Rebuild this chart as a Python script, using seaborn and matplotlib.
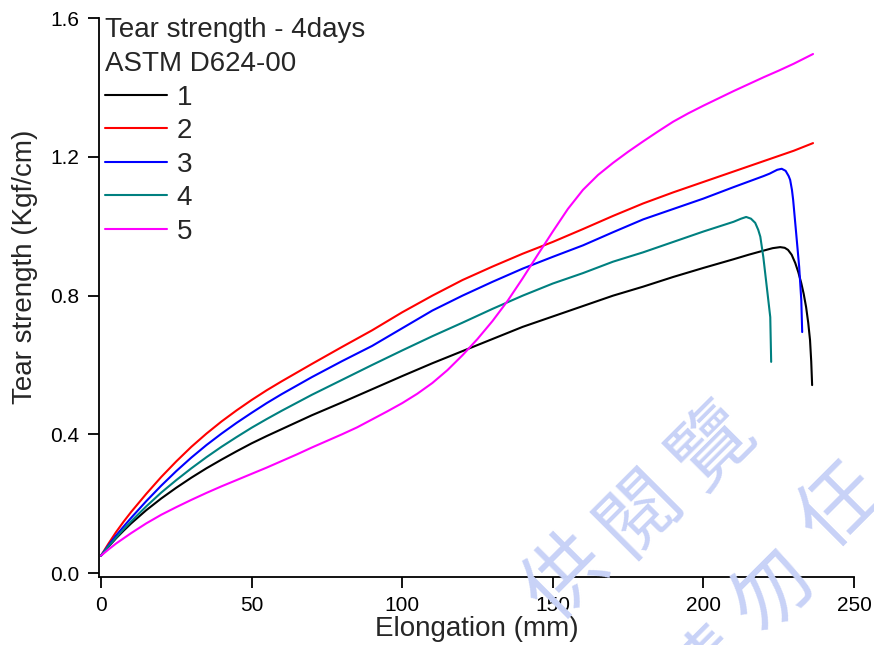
import numpy as np
import pandas as pd
import matplotlib
matplotlib.use("Agg")
import matplotlib.pyplot as plt
import seaborn as sns

# Tear test curves, 4 days (ASTM D624-00): elongation (mm) vs tear strength (Kgf/cm)
x1 = [0, 2.5, 5, 7.5, 10, 15, 20, 25, 30, 35, 40, 45, 50, 55, 60, 70, 80, 90, 100,
      110, 120, 130, 140, 150, 160, 170, 180, 190, 200, 210, 215, 220, 223, 225.5,
      227, 228.1, 229.3, 230.5, 231.5, 232.5, 233.3, 234.1, 234.8, 235.4, 235.8, 236.1]
y1 = [0.05, 0.076, 0.10, 0.122, 0.143, 0.181, 0.215, 0.246, 0.275, 0.302, 0.327,
      0.351, 0.374, 0.395, 0.415, 0.455, 0.492, 0.53, 0.568, 0.605, 0.64, 0.675, 0.71,
      0.74, 0.77, 0.80, 0.826, 0.854, 0.88, 0.905, 0.918, 0.93, 0.937, 0.94, 0.938,
      0.932, 0.918, 0.894, 0.868, 0.836, 0.805, 0.767, 0.722, 0.672, 0.61, 0.542]

x2 = [0, 2.5, 5, 7.5, 10, 15, 20, 25, 30, 35, 40, 45, 50, 55, 60, 70, 80, 90, 100,
      110, 120, 130, 140, 150, 160, 170, 180, 190, 200, 210, 220, 230, 236.4]
y2 = [0.05, 0.085, 0.118, 0.148, 0.176, 0.228, 0.277, 0.322, 0.364, 0.402, 0.437,
      0.469, 0.499, 0.527, 0.553, 0.603, 0.652, 0.70, 0.752, 0.80, 0.845, 0.884, 0.921,
      0.955, 0.992, 1.03, 1.066, 1.098, 1.128, 1.158, 1.188, 1.218, 1.24]

x3 = [0, 2.5, 5, 7.5, 10, 15, 20, 25, 30, 35, 40, 45, 50, 55, 60, 70, 80, 90, 100,
      110, 120, 130, 140, 150, 160, 170, 180, 190, 200, 210, 220, 222, 224.5, 226,
      227.3, 228.3, 228.8, 229.4, 229.8, 230.8, 231.8, 232.5, 232.8]
y3 = [0.05, 0.08, 0.108, 0.134, 0.159, 0.207, 0.252, 0.294, 0.333, 0.369, 0.402,
      0.433, 0.462, 0.49, 0.516, 0.565, 0.611, 0.655, 0.706, 0.757, 0.80, 0.84, 0.878,
      0.912, 0.945, 0.983, 1.02, 1.05, 1.08, 1.113, 1.145, 1.152, 1.163, 1.166, 1.16,
      1.145, 1.134, 1.105, 1.076, 0.98, 0.883, 0.787, 0.695]

x4 = [0, 2.5, 5, 7.5, 10, 15, 20, 25, 30, 35, 40, 45, 50, 55, 60, 70, 80, 90, 100,
      110, 120, 130, 140, 150, 160, 170, 180, 190, 200, 210, 212.5, 214.2, 215.8,
      217.2, 218.2, 218.9, 219.9, 220.9, 222.2, 222.5]
y4 = [0.05, 0.077, 0.102, 0.126, 0.149, 0.192, 0.232, 0.268, 0.302, 0.334, 0.364,
      0.392, 0.419, 0.444, 0.468, 0.514, 0.557, 0.60, 0.642, 0.683, 0.722, 0.762, 0.80,
      0.835, 0.865, 0.898, 0.925, 0.955, 0.985, 1.013, 1.022, 1.027, 1.022, 1.01, 0.99,
      0.97, 0.911, 0.836, 0.738, 0.609]

x5 = [0, 2.5, 5, 7.5, 10, 15, 20, 25, 30, 35, 40, 45, 50, 55, 60, 65, 70, 75, 80, 85,
      90, 95, 100, 105, 110, 115, 120, 125, 130, 135, 140, 145, 150, 155, 160, 165,
      170, 175, 180, 185, 190, 195, 200, 205, 210, 215, 220, 225, 230, 236.4]
y5 = [0.05, 0.068, 0.085, 0.10, 0.115, 0.143, 0.168, 0.19, 0.211, 0.231, 0.25, 0.268,
      0.286, 0.304, 0.323, 0.342, 0.362, 0.381, 0.40, 0.42, 0.443, 0.466, 0.49, 0.517,
      0.548, 0.585, 0.628, 0.675, 0.727, 0.785, 0.85, 0.918, 0.985, 1.05, 1.105, 1.148,
      1.183, 1.215, 1.245, 1.274, 1.302, 1.326, 1.348, 1.369, 1.39, 1.41, 1.43, 1.449,
      1.469, 1.497]

samples = ["1", "2", "3", "4", "5"]
colors = ["#000000", "#ff0000", "#0000ff", "#008080", "#ff00ff"]
x_ticks = [0, 50, 100, 150, 200, 250]
y_ticks = [0.0, 0.4, 0.8, 1.2, 1.6]

frames = []
for name, xs, ys in zip(samples, [x1, x2, x3, x4, x5], [y1, y2, y3, y4, y5]):
    frames.append(pd.DataFrame({"Elongation": xs, "Tear": ys, "Sample": name}))
df = pd.concat(frames, ignore_index=True)

sns.set_style("ticks")
plt.rcParams["font.family"] = ["Liberation Sans", "DejaVu Sans"]

fig = plt.figure(figsize=(8.74, 6.45), dpi=100)
ax = fig.add_axes([99 / 874, 1 - 577 / 645, 755 / 874, 558.7 / 645])

# faint diagonal watermark characters
wm_color = "#c8d2f7"
for ch, px, py in [("供", 567, 579), ("閱", 640, 513), ("覽", 713, 447),
                   ("請", 706, 672), ("勿", 773, 593), ("任", 840, 507)]:
    fig.text(px / 874, 1 - py / 645, ch, fontsize=58, color=wm_color,
             family=["Noto Sans CJK TC", "DejaVu Sans"], fontweight="light",
             rotation=45, ha="center", va="center", zorder=0)

sns.lineplot(data=df, x="Elongation", y="Tear", hue="Sample", palette=colors,
             estimator=None, sort=False, linewidth=1.5, ax=ax)

ax.set_xlim(-0.66, 250)
ax.set_ylim(-0.0115, 1.6)
ax.set_xticks(x_ticks)
ax.set_xticklabels([str(v) for v in x_ticks])
ax.set_yticks(y_ticks)
ax.set_yticklabels([f"{v:.1f}" for v in y_ticks])
ax.tick_params(axis="both", direction="out", length=8, width=1.3, labelsize=15,
               pad=6, colors="black")
for side in ["top", "right"]:
    ax.spines[side].set_visible(False)
for side in ["left", "bottom"]:
    ax.spines[side].set_linewidth(1.3)
    ax.spines[side].set_color("black")
ax.patch.set_alpha(0)

ax.set_xlabel("Elongation (mm)", fontsize=20)
ax.set_ylabel("Tear strength (Kgf/cm)", fontsize=20)
ax.xaxis.set_label_coords(0.5, -0.069)
ax.yaxis.set_label_coords(-0.081, 0.555)

handles, labels = ax.get_legend_handles_labels()
leg = ax.legend(handles, labels, title="Tear strength - 4days\nASTM D624-00",
                loc="upper left", bbox_to_anchor=(0.0, 1.012), frameon=False,
                fontsize=20, title_fontsize=20, alignment="left",
                handlelength=2.25, handletextpad=0.35, labelspacing=0.27,
                borderpad=0.2, borderaxespad=0.0)
leg.get_title().set_linespacing(1.4)
for line in leg.get_lines():
    line.set_linewidth(1.5)

fig.savefig("out.png", dpi=100)
